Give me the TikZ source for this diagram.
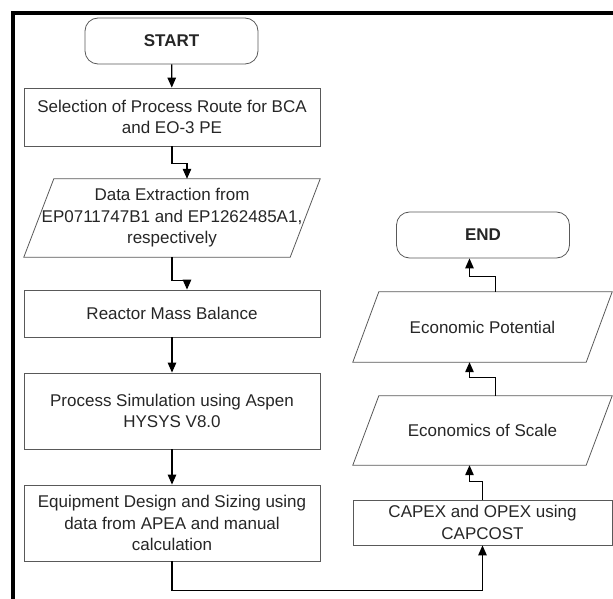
\documentclass[tikz,border=0pt]{standalone}
\usepackage{fontspec}
\setmainfont{Liberation Sans}
\usetikzlibrary{arrows.meta, positioning}

\begin{document}
\begin{tikzpicture}[x=1pt, y=-1pt,
    every node/.style={font=\fontsize{17}{21.5}\selectfont, align=center, inner sep=0pt, text=black!85},
    box/.style={draw=black!65, line width=0.8pt, rectangle, minimum width=296pt},
    term/.style={draw=black!65, line width=0.8pt, rectangle, rounded corners=13pt,
        minimum width=173pt, minimum height=46pt, font=\fontsize{17}{21.5}\selectfont\bfseries},
    io/.style={rectangle},
    frm/.style={draw=black!65, line width=0.8pt},
    arr/.style={line width=1.2pt, -{Triangle[length=10pt,width=8.5pt]}}]
    \useasboundingbox (0,0) rectangle (613,599);
    % frame
    \draw[line width=4pt] (12.5,599) -- (12.5,13) -- (613,13);
    % left column
    \node[term] (start) at (171.5,41) {START};
    \node[box, minimum height=58pt] (sel) at (172,117) {Selection of Process Route for BCA\\and EO-3 PE};
    \node[io, minimum width=266pt, minimum height=78pt] (data) at (172,218) {Data Extraction from\\EP0711747B1 and EP1262485A1,\\respectively};
    \node[box, minimum height=47pt] (reactor) at (172,313.5) {Reactor Mass Balance};
    \node[box, minimum height=76pt] (sim) at (172,411) {Process Simulation using Aspen\\HYSYS V8.0};
    \node[box, minimum height=76pt] (equip) at (172,523) {Equipment Design and Sizing using\\data from APEA and manual\\calculation};
    % right column
    \node[box, minimum width=259pt, minimum height=45pt] (capex) at (482.5,522.5) {CAPEX and OPEX using\\CAPCOST};
    \node[io, minimum width=233pt, minimum height=69pt] (scale) at (482.5,430.5) {Economics of Scale};
    \node[io, minimum width=233pt, minimum height=70pt] (pot) at (482.5,327) {Economic Potential};
    \node[term] (end) at (483,235) {END};
    % slanted outlines of the data boxes
    \draw[frm] ([xshift=-15pt]data.south west) -- ([xshift=15pt]data.north west) -- ([xshift=15pt]data.north east) -- ([xshift=-15pt]data.south east) -- cycle;
    \draw[frm] ([xshift=-13pt]scale.south west) -- ([xshift=13pt]scale.north west) -- ([xshift=13pt]scale.north east) -- ([xshift=-13pt]scale.south east) -- cycle;
    \draw[frm] ([xshift=-13pt]pot.south west) -- ([xshift=13pt]pot.north west) -- ([xshift=13pt]pot.north east) -- ([xshift=-13pt]pot.south east) -- cycle;

    \draw[arr] (start) -- (sel);
    \draw[arr] (sel.south) -- ++(0,17) -| ([xshift=15pt]data.north);
    \draw[arr] (data.south) -- ++(0,23) -| ([xshift=15pt]reactor.north);
    \draw[arr] (reactor) -- (sim);
    \draw[arr] (sim) -- (equip);
    \draw[arr] (equip.south) -- ++(0,29) -| (capex.south);
    \draw[arr] (capex.north) -- ++(0,-18) -| ([xshift=-13pt]scale.south);
    \draw[arr] ([xshift=13pt]scale.north) -- ++(0,-18) -| ([xshift=-13pt]pot.south);
    \draw[arr] ([xshift=13pt]pot.north) -- ++(0,-15) -| ([xshift=-13pt]pot.south |- end.south);
\end{tikzpicture}
\end{document}
